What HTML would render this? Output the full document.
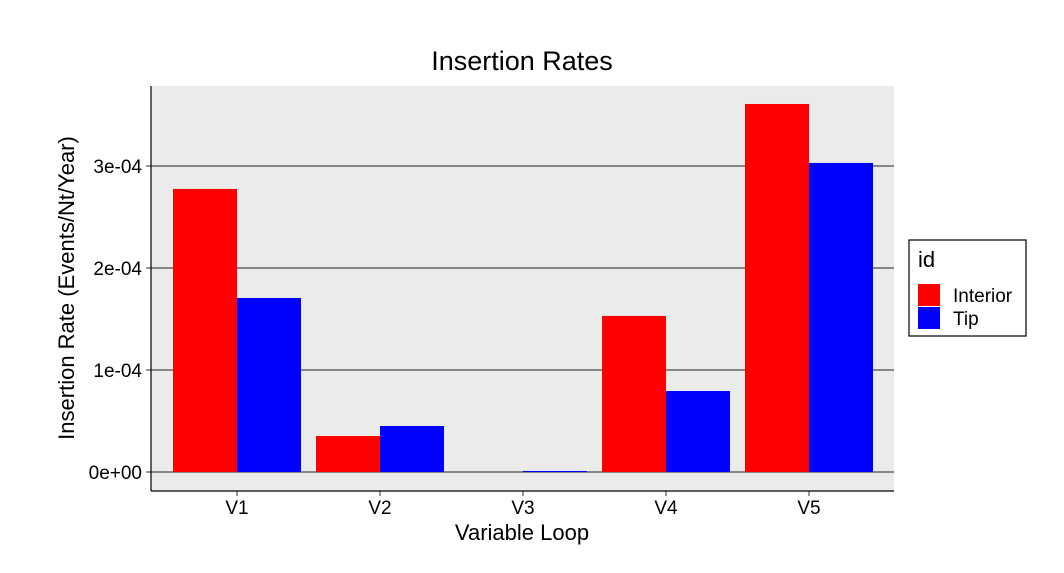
<!DOCTYPE html>
<html><head><meta charset="utf-8"><style>
body{margin:0;background:#fff;}
svg{display:block;font-family:"Liberation Sans",sans-serif;}
</style></head><body>
<svg id="chart" width="1064" height="573">
<rect width="1064" height="573" fill="#fff"/>
<rect x="151" y="86" width="743" height="405" fill="#ebebeb"/>
<g id="grid"></g><g id="bars"></g><g id="axes"></g>
<text x="522" y="70" font-size="27" text-anchor="middle" fill="#000">Insertion Rates</text>
<text x="522" y="540" font-size="22" text-anchor="middle" fill="#000">Variable Loop</text>
<text transform="translate(74,288) rotate(-90)" font-size="22" text-anchor="middle" fill="#000">Insertion Rate (Events/Nt/Year)</text>
<g>
<rect x="909" y="240" width="117" height="96" fill="#fff" stroke="#000" stroke-width="1.2"/>
<text x="918" y="267" font-size="22">id</text>
<rect x="918" y="284" width="22" height="22" fill="#ff0000"/>
<text x="953" y="302" font-size="19">Interior</text>
<rect x="918" y="307" width="22" height="22" fill="#0000ff"/>
<text x="953" y="325" font-size="19">Tip</text>
</g>
</svg>
<script>
const categories=["V1","V2","V3","V4","V5"];
const interior=[2.775e-4,0.353e-4,0,1.53e-4,3.608e-4];
const tip=[1.706e-4,0.451e-4,0.01e-4,0.794e-4,3.03e-4];
const yTicks=[0,1e-4,2e-4,3e-4];
const yTickLabels=["0e+00","1e-04","2e-04","3e-04"];
const NS="http://www.w3.org/2000/svg";
const y=v=>472-v/1e-4*102;
const xc=i=>237+i*143;
const bw=64;
function mk(tag,attrs,parent){const e=document.createElementNS(NS,tag);for(const k in attrs)e.setAttribute(k,attrs[k]);document.getElementById(parent).appendChild(e);return e;}
yTicks.forEach((t,i)=>{
 const g=mk('line',{x1:151,x2:894,y1:y(t),y2:y(t),stroke:'#222','stroke-width':0.9},'grid');
 
 
 const tk=mk('line',{x1:146,x2:151,y1:y(t),y2:y(t),stroke:'#333'},'axes');
 
 
 const lb=mk('text',{x:142,y:y(t)+7,'font-size':19,'text-anchor':'end',fill:'#000'},'axes');
 lb.textContent=yTickLabels[i];
 
 
});
categories.forEach((c,i)=>{
 const a=mk('rect',{x:xc(i)-bw,y:y(interior[i]),width:bw,height:472-y(interior[i]),fill:'#ff0000'},'bars');
 
 
 const b=mk('rect',{x:xc(i),y:y(tip[i]),width:bw,height:472-y(tip[i]),fill:'#0000ff'},'bars');
 
 
 const tk=mk('line',{x1:xc(i),x2:xc(i),y1:491,y2:496,stroke:'#333'},'axes');
 
 
 const lb=mk('text',{x:xc(i),y:514,'font-size':19,'text-anchor':'middle',fill:'#000'},'axes');
 lb.textContent=c;
 
 
});
const ya=mk('line',{x1:151,x2:151,y1:86,y2:491,stroke:'#000','stroke-width':1.2},'axes');


const xa=mk('line',{x1:151,x2:894,y1:491,y2:491,stroke:'#000','stroke-width':1.2},'axes');


</script>
</body></html>
